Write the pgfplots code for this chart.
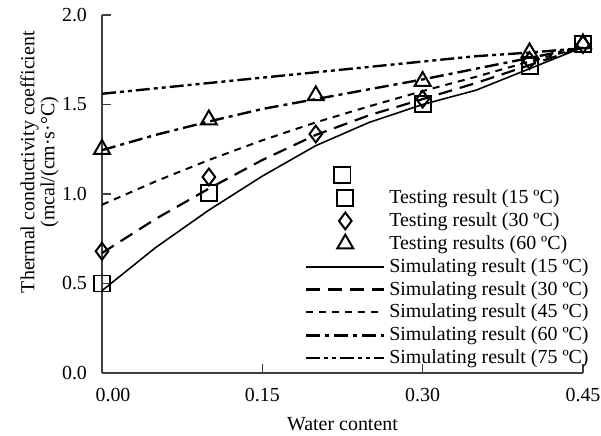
\documentclass[border=0pt]{standalone}
\usepackage{fontspec}
\setmainfont{Liberation Serif}
\usepackage{pgfplots}
\pgfplotsset{compat=1.18}
\begin{document}
\begin{tikzpicture}
\useasboundingbox (-51bp,-31.5bp) rectangle (249.5bp,186.5bp);
\begin{axis}[
  at={(0,0)}, anchor=south west,
  scale only axis, width=240.5bp, height=179bp,
  xmin=0, xmax=0.45, ymin=0, ymax=2,
  axis lines*=left,
  axis line style={draw=black!75, line width=0.8pt},
  tick style={draw=black!75, line width=0.8pt},
  tick align=inside, major tick length=4.5bp,
  xtick={0,0.15,0.3,0.45}, ytick={0,0.5,1,1.5,2},
  xticklabels={\hspace*{11bp}0.00,0.15,0.30,0.45},
  x tick label style={yshift=-4bp},
  y tick label style={xshift=-4bp, /pgf/number format/.cd, fixed, fixed zerofill, precision=1, assume math mode=true},
  font=\fontsize{10}{12}\selectfont,
  xlabel={Water content},
  xlabel style={at={(axis description cs:0.5,0)}, anchor=center, yshift=-25.5bp},
  ylabel={Thermal conductivity coefficient\\(mcal/(cm·s·°C)},
  ylabel style={align=center, font=\fontsize{10}{10}\selectfont, at={(axis description cs:-0.13,0.589)}, anchor=center},
  clip=false,
  legend cell align=left,
  legend style={draw=none, fill=none, at={(axis description cs:1.025,0.53)}, anchor=north east,
    row sep=-0.95bp, inner sep=1bp, font=\fontsize{10}{12}\selectfont},
  legend image code/.code={\draw[#1] (0cm,0cm) -- (1.375cm,0cm);},
]
\pgfplotsset{marklegend/.style={legend image code/.code={\draw[mark repeat=2,mark phase=2,##1] plot coordinates {(0cm,0cm)(0.69cm,0cm)(1.375cm,0cm)};}}}
\addplot[only marks, mark=square, mark size=4bp, mark options={line width=1pt, draw=black, fill=none}, marklegend]
  coordinates {(0,0.50) (0.1,1.005) (0.225,1.106) (0.3,1.505) (0.4,1.715) (0.45,1.838)};
\addlegendentry{Testing result (15 ºC)}
\addplot[only marks, mark=diamond, mark size=4.2bp, mark options={line width=1pt, draw=black, fill=none}, marklegend]
  coordinates {(0,0.68) (0.1,1.095) (0.2,1.335) (0.3,1.53) (0.4,1.745) (0.45,1.835)};
\addlegendentry{Testing result (30 ºC)}
\addplot[only marks, mark=triangle, mark size=4.6bp, mark options={line width=1pt, draw=black, fill=none}, marklegend]
  coordinates {(0,1.25) (0.1,1.415) (0.2,1.55) (0.3,1.63) (0.4,1.79) (0.45,1.84)};
\addlegendentry{Testing results (60 ºC)}
\addplot[black, line width=0.8pt]
  coordinates {(0,0.46) (0.05,0.70) (0.1,0.91) (0.15,1.10) (0.2,1.27) (0.25,1.40) (0.3,1.50) (0.35,1.58) (0.4,1.70) (0.45,1.82)};
\addlegendentry{Simulating result (15 ºC)}
\addplot[black, line width=1.1pt, dash pattern=on 7bp off 4bp]
  coordinates {(0,0.67) (0.05,0.86) (0.1,1.03) (0.15,1.19) (0.2,1.33) (0.25,1.44) (0.3,1.53) (0.35,1.62) (0.4,1.72) (0.45,1.82)};
\addlegendentry{Simulating result (30 ºC)}
\addplot[black, line width=1pt, dash pattern=on 3.5bp off 3bp]
  coordinates {(0,0.94) (0.05,1.07) (0.1,1.19) (0.15,1.30) (0.2,1.40) (0.25,1.49) (0.3,1.575) (0.35,1.655) (0.4,1.74) (0.45,1.82)};
\addlegendentry{Simulating result (45 ºC)}
\addplot[black, line width=1.2pt, dash pattern=on 7bp off 2.5bp on 2bp off 2.5bp]
  coordinates {(0,1.245) (0.05,1.33) (0.1,1.405) (0.15,1.475) (0.2,1.53) (0.25,1.585) (0.3,1.64) (0.35,1.70) (0.4,1.76) (0.45,1.82)};
\addlegendentry{Simulating result (60 ºC)}
\addplot[black, line width=1.2pt, dash pattern=on 7bp off 2bp on 2bp off 2bp on 2bp off 2bp]
  coordinates {(0,1.56) (0.05,1.59) (0.1,1.62) (0.15,1.65) (0.2,1.68) (0.25,1.71) (0.3,1.74) (0.35,1.77) (0.4,1.79) (0.45,1.815)};
\addlegendentry{Simulating result (75 ºC)}
\end{axis}
\end{tikzpicture}
\end{document}
